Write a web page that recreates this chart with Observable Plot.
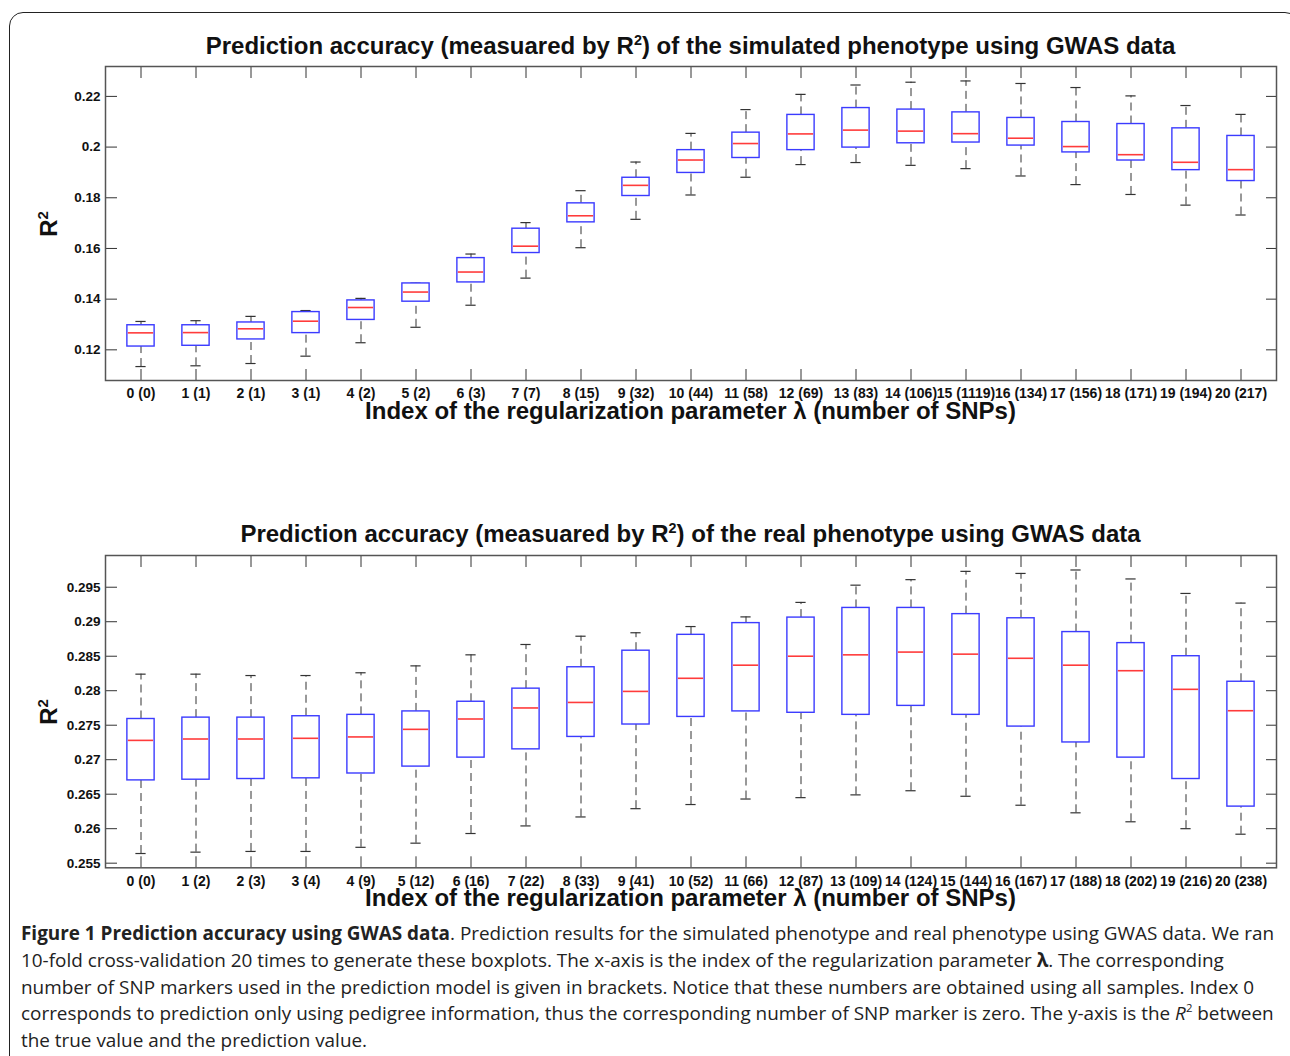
<!DOCTYPE html>
<html><head><meta charset="utf-8">
<script src="https://cdn.jsdelivr.net/npm/d3@7"></script>
<script src="https://cdn.jsdelivr.net/npm/@observablehq/plot@0.6"></script>
<style>
body{margin:0;background:#fff;width:1290px;height:1056px;overflow:hidden;position:relative;font-family:"Liberation Sans",Arial,sans-serif;color:#111}
.outer{position:absolute;left:9px;top:12px;width:1290px;height:1100px;border:1.5px solid #222;border-radius:14px;box-sizing:border-box}
.title{position:absolute;left:105px;width:1171px;text-align:center;font-weight:bold;font-size:24px;line-height:normal;white-space:nowrap}
.title sup{font-size:0.6em;vertical-align:0.6em;line-height:0}
.xt{position:absolute;left:105px;width:1171px;text-align:center;font-weight:bold;font-size:24px;line-height:normal;white-space:nowrap}
.yl{position:absolute;font-weight:bold;font-size:24px;transform:translate(-50%,-50%) rotate(-90deg);white-space:nowrap;line-height:1}
.yl sup{font-size:0.62em;vertical-align:0.6em;line-height:0}
.chart{position:absolute;left:0}
.caption{position:absolute;left:21px;top:920px;font-family:"Open Sans",sans-serif;font-size:18.9px;line-height:26.75px;white-space:nowrap;color:#222}
.caption b{font-weight:bold}
.caption sup{font-size:0.6em;vertical-align:0.7em;line-height:0}
</style></head>
<body>
<div class="outer"></div>
<div id="top" class="chart" style="top:0"></div>
<div id="bottom" class="chart" style="top:430px"></div>
<div class="title" style="top:31.5px">Prediction accuracy (measuared by R<sup>2</sup>) of the simulated phenotype using GWAS data</div>
<div class="title" style="top:519.5px">Prediction accuracy (measuared by R<sup>2</sup>) of the real phenotype using GWAS data</div>
<div class="xt" style="top:397px">Index of the regularization parameter λ (number of SNPs)</div>
<div class="xt" style="top:884px">Index of the regularization parameter λ (number of SNPs)</div>
<div class="yl" style="left:49px;top:224px">R<sup>2</sup></div>
<div class="yl" style="left:49px;top:712px">R<sup>2</sup></div>
<div class="caption">
<div><b>Figure 1 Prediction accuracy using GWAS data</b>. Prediction results for the simulated phenotype and real phenotype using GWAS data. We ran</div>
<div>10-fold cross-validation 20 times to generate these boxplots. The x-axis is the index of the regularization parameter <b>λ</b>. The corresponding</div>
<div>number of SNP markers used in the prediction model is given in brackets. Notice that these numbers are obtained using all samples. Index 0</div>
<div>corresponds to prediction only using pedigree information, thus the corresponding number of SNP marker is zero. The y-axis is the <i>R</i><sup>2</sup> between</div>
<div>the true value and the prediction value.</div>
</div>
<script>
const indices = [0,1,2,3,4,5,6,7,8,9,10,11,12,13,14,15,16,17,18,19,20];
const snpTop = [0,1,1,1,2,2,3,7,15,32,44,58,69,83,106,1119,134,156,171,194,217];
const snpBottom = [0,2,3,4,9,12,16,22,33,41,52,66,87,109,124,144,167,188,202,216,238];

const topUpper  = [0.1312,0.1315,0.1332,0.1355,0.1403,0.1463,0.1578,0.1702,0.1828,0.1941,0.2054,0.2148,0.2208,0.2245,0.2256,0.2261,0.2251,0.2235,0.2202,0.2164,0.2129];
const topQ3     = [0.1297,0.1297,0.1308,0.1349,0.1395,0.1462,0.1562,0.1678,0.1778,0.1879,0.1988,0.2057,0.2127,0.2154,0.2148,0.2137,0.2115,0.2099,0.2091,0.2074,0.2044];
const topMedian = [0.1267,0.1268,0.1283,0.1313,0.1367,0.1428,0.1507,0.1609,0.1729,0.1849,0.1949,0.2014,0.2052,0.2067,0.2063,0.2053,0.2035,0.2002,0.1970,0.1940,0.1911];
const topQ1     = [0.1213,0.1216,0.1241,0.1266,0.1318,0.1390,0.1466,0.1582,0.1703,0.1807,0.1898,0.1957,0.1988,0.1998,0.2015,0.2018,0.2006,0.1979,0.1947,0.1909,0.1866];
const topLower  = [0.1134,0.1137,0.1146,0.1175,0.1228,0.1289,0.1376,0.1483,0.1603,0.1715,0.1811,0.1881,0.1931,0.1939,0.1928,0.1915,0.1886,0.1852,0.1813,0.1771,0.1732];

const botUpper  = [0.2824,0.2824,0.2822,0.2822,0.2826,0.2836,0.2852,0.2867,0.2879,0.2884,0.2893,0.2907,0.2928,0.2953,0.2961,0.2973,0.2970,0.2975,0.2962,0.2941,0.2927];
const botQ3     = [0.2759,0.2761,0.2761,0.2763,0.2765,0.2770,0.2784,0.2803,0.2834,0.2858,0.2881,0.2898,0.2906,0.2920,0.2920,0.2911,0.2905,0.2885,0.2869,0.2850,0.2813];
const botMedian = [0.2728,0.2730,0.2730,0.2731,0.2733,0.2744,0.2759,0.2775,0.2783,0.2799,0.2818,0.2837,0.2850,0.2852,0.2856,0.2853,0.2847,0.2837,0.2829,0.2802,0.2771];
const botQ1     = [0.2670,0.2671,0.2672,0.2673,0.2680,0.2690,0.2703,0.2715,0.2733,0.2751,0.2762,0.2770,0.2768,0.2765,0.2778,0.2765,0.2748,0.2725,0.2703,0.2672,0.2632];
const botLower  = [0.2564,0.2566,0.2567,0.2567,0.2573,0.2579,0.2593,0.2604,0.2617,0.2629,0.2635,0.2643,0.2645,0.2649,0.2655,0.2647,0.2634,0.2623,0.2610,0.2600,0.2592];

const yTicksTop = [0.12,0.14,0.16,0.18,0.2,0.22];
const yTicksBottom = [0.255,0.26,0.265,0.27,0.275,0.28,0.285,0.29,0.295];

function boxChart({upper,q3,median,q1,lower,snp,yDomain,yTicks,height,marginTop,marginBottom}) {
  const rows = indices.map((i,k)=>({i, upper:upper[k], q3:q3[k], median:median[k], q1:q1[k], lower:lower[k]}));
  const bw = (1290-105-14)/indices.length;
  const boxInset = (bw-28)/2, capInset = (bw-11)/2;
  const blank = () => "";
  return Plot.plot({
    width:1290, height, marginTop, marginBottom, marginLeft:105, marginRight:14,
    style:{fontFamily:"Liberation Sans, Arial, sans-serif", fontWeight:"bold", fontSize:"13.5px", color:"#111", background:"transparent", overflow:"visible"},
    x:{type:"band", domain:indices, padding:0, axis:null},
    y:{domain:yDomain, axis:null},
    marks:[
      Plot.ruleX(rows,{x:"i", y1:"q3", y2:"upper", stroke:"#333", strokeWidth:1, strokeDasharray:"8,5"}),
      Plot.ruleX(rows,{x:"i", y1:"lower", y2:"q1", stroke:"#333", strokeWidth:1, strokeDasharray:"8,5"}),
      Plot.tickY(rows,{x:"i", y:"upper", insetLeft:capInset, insetRight:capInset, stroke:"#333", strokeWidth:1.2}),
      Plot.tickY(rows,{x:"i", y:"lower", insetLeft:capInset, insetRight:capInset, stroke:"#333", strokeWidth:1.2}),
      Plot.barY(rows,{x:"i", y1:"q1", y2:"q3", insetLeft:boxInset, insetRight:boxInset, fill:"white", stroke:"#3b3bff", strokeWidth:1.4}),
      Plot.tickY(rows,{x:"i", y:"median", insetLeft:boxInset+1, insetRight:boxInset+1, stroke:"#ff3b3b", strokeWidth:1.6}),
      Plot.axisX({anchor:"bottom", ticks:indices, tickSize:0, tickPadding:8, fontSize:14, tickFormat:i=>`${i} (${snp[i]})`, label:null}),
      Plot.axisX({anchor:"bottom", ticks:indices, tickSize:-11, tickFormat:blank, label:null, stroke:"#333"}),
      Plot.axisX({anchor:"top", ticks:indices, tickSize:-11, tickFormat:blank, label:null, stroke:"#333"}),
      Plot.axisY({anchor:"left", ticks:yTicks, tickSize:0, tickPadding:5, tickFormat:d=>String(d), label:null}),
      Plot.axisY({anchor:"left", ticks:yTicks, tickSize:-12, tickFormat:blank, label:null, stroke:"#333"}),
      Plot.axisY({anchor:"right", ticks:yTicks, tickSize:-11, tickFormat:blank, label:null, stroke:"#333"}),
      Plot.frame({stroke:"#555", strokeWidth:1.5})
    ]
  });
}

document.getElementById("top").append(boxChart({
  upper:topUpper, q3:topQ3, median:topMedian, q1:topQ1, lower:topLower, snp:snpTop,
  yDomain:[0.1079,0.2318], yTicks:yTicksTop, height:430, marginTop:66, marginBottom:50
}));
document.getElementById("bottom").append(boxChart({
  upper:botUpper, q3:botQ3, median:botMedian, q1:botQ1, lower:botLower, snp:snpBottom,
  yDomain:[0.25433,0.2996], yTicks:yTicksBottom, height:480, marginTop:125, marginBottom:42.7
}));
</script>
</body></html>
